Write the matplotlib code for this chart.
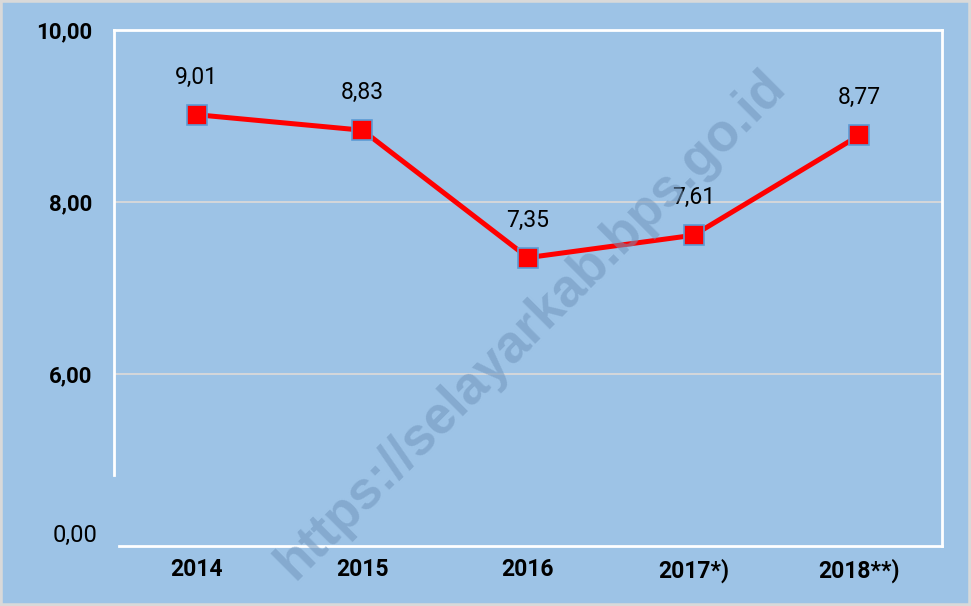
import matplotlib
matplotlib.use("Agg")
import matplotlib.pyplot as plt

years = ["2014", "2015", "2016", "2017*)", "2018**)"]
values = [9.01, 8.83, 7.35, 7.61, 8.77]
value_labels = ["9,01", "8,83", "7,35", "7,61", "8,77"]
ytick_vals = [6, 8, 10]
ytick_labels = ["6,00", "8,00", "10,00"]

bg = "#9DC3E6"
narrow = ["Liberation Sans Narrow", "Roboto", "DejaVu Sans"]

fig = plt.figure(figsize=(9.71, 6.06), dpi=100, facecolor=bg)
ax = fig.add_axes([114 / 971, 1 - 546 / 606, 828 / 971, 516.5 / 606])
ax.set_facecolor(bg)

x = list(range(len(years)))
ax.plot(x, values, color="#FF0000", linewidth=3.6, marker="s", markersize=14,
        markerfacecolor="#FF0000", markeredgecolor="#5B9BD5", markeredgewidth=1.2,
        zorder=3)

for xi, v, lab in zip(x, values, value_labels):
    ax.annotate(lab, (xi, v), xytext=(0, 27), textcoords="offset points",
                ha="center", va="center", fontsize=16.5, family=narrow, color="black")

ax.set_xlim(-0.5, 4.5)
ax.set_ylim(4.0, 10.0)

ax.set_yticks(ytick_vals)
ax.set_yticklabels(ytick_labels, fontsize=16, fontweight="bold", family=narrow)
ax.set_xticks(x)
ax.set_xticklabels(years, fontsize=16.5, fontweight="bold", family=narrow)
ax.tick_params(axis="y", length=0, pad=16)
ax.tick_params(axis="x", length=0, pad=9)

# broken axis label at the bottom
ax.text(-0.6, 4.12, "0,00", ha="right", va="center", fontsize=17, family=narrow)

ax.grid(axis="y", color="#D9D9D9", linewidth=1.3)
for side in ["top", "right", "left", "bottom"]:
    ax.spines[side].set_color("white")
    ax.spines[side].set_linewidth(2)
ax.spines["left"].set_bounds(4.82, 10)
ax.spines["bottom"].set_bounds(-0.47, 4.5)

fig.text(0.547, 0.463, "https://selayarkab.bps.go.id", rotation=45, ha="center", va="center",
         fontsize=38, fontweight="bold", color="#7196BD", alpha=0.55, family="Liberation Sans")

# outer light gray frame
fig.patches.append(plt.Rectangle((0, 0), 1, 1, transform=fig.transFigure, fill=False,
                                 edgecolor="#D9D9D9", linewidth=4))

fig.savefig("out.png", dpi=100, facecolor=bg)
